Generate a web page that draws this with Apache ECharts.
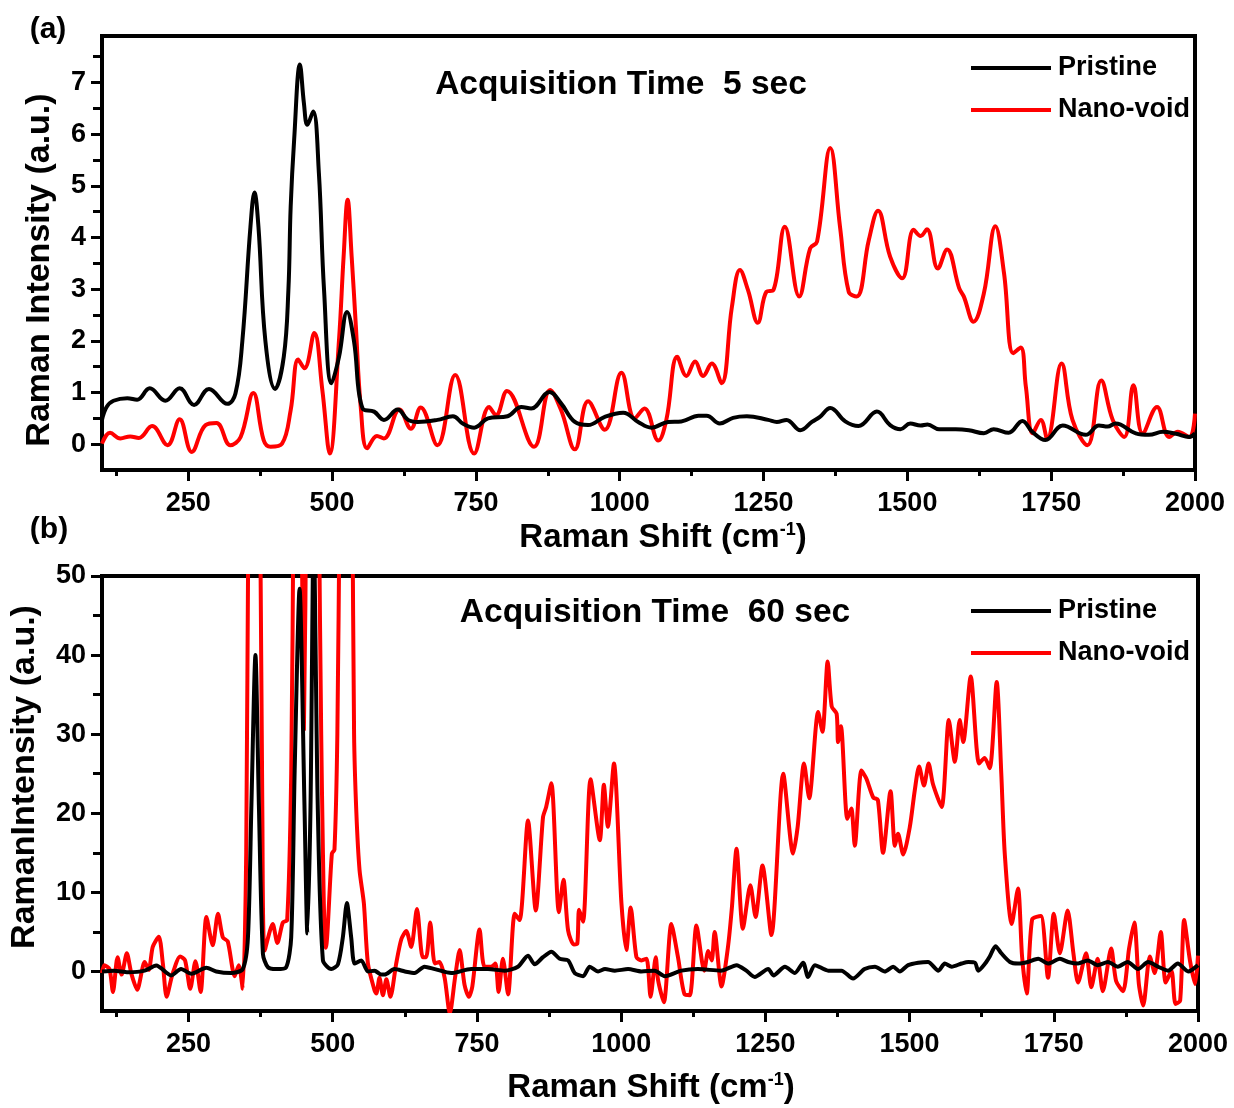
<!DOCTYPE html>
<html>
<head>
<meta charset="utf-8">
<script src="https://cdn.jsdelivr.net/npm/echarts@6/dist/echarts.min.js"></script>
<style>
html,body{margin:0;padding:0;background:#fff;}
#c{width:1234px;height:1108px;}
</style>
</head>
<body>
<div id="c"></div>
<script>
// ---------- Data (panel a: 5 sec) ----------
const aPristineX = [100,108,120,144,161,183,210,235,260,286,318,332,344,358,365,372,384,401,416,424,428,434,444,451,457,467,477,486,499,512,526,538,553,573,590,614,632,649,683,710,727,747,771,805,829,846,878,898,922,945,974,1006,1032,1055,1084,1107,1137,1151,1174,1197,1221,1258,1273,1290,1314,1334,1348,1366,1392,1415,1447,1470,1488,1505,1523,1535,1555,1584,1607,1633,1650,1676,1700,1717,1740,1770,1810,1833,1848,1862,1897,1920,1944,1967,1990,2000];
const aPristineY = [0.47,0.72,0.84,0.89,0.86,1.08,0.84,1.08,0.76,1.07,0.78,0.98,2.0,4.2,4.87,4.2,2.0,1.07,1.69,2.98,4.6,5.89,7.35,6.6,6.18,6.44,5.25,2.98,1.18,1.69,2.56,2.0,0.69,0.63,0.47,0.67,0.47,0.43,0.47,0.54,0.40,0.32,0.50,0.54,0.72,0.69,1.01,0.79,0.43,0.37,0.53,0.61,0.43,0.32,0.43,0.44,0.55,0.55,0.40,0.51,0.54,0.47,0.43,0.47,0.27,0.43,0.53,0.70,0.44,0.35,0.63,0.37,0.29,0.40,0.36,0.38,0.29,0.29,0.27,0.21,0.29,0.22,0.45,0.24,0.08,0.36,0.18,0.36,0.34,0.40,0.21,0.18,0.24,0.20,0.14,0.21];
const aVoidX = [100,114,132,149,164,187,214,235,256,280,299,323,341,363,381,393,413,428,441,452,469,483,496,512,520,527,534,541,550,561,578,590,617,637,654,683,714,747,773,785,804,851,879,898,922,945,974,1003,1026,1043,1067,1081,1100,1116,1131,1145,1160,1177,1195,1209,1223,1240,1255,1267,1287,1312,1331,1343,1366,1383,1398,1412,1433,1449,1470,1491,1511,1523,1534,1553,1569,1590,1598,1615,1633,1653,1668,1684,1697,1706,1718,1732,1743,1768,1787,1813,1837,1857,1877,1893,1909,1934,1955,1970,1990,2000];
const aVoidY = [0.01,0.22,0.11,0.15,0.12,0.35,-0.02,0.48,-0.15,0.37,0.41,-0.02,0.14,0.99,0.08,-0.05,0.01,0.66,1.64,1.47,2.15,1.05,-0.18,2.02,3.63,4.73,3.63,2.34,0.69,-0.08,0.16,0.11,0.67,0.30,0.71,-0.02,1.34,-0.18,0.72,0.56,1.03,-0.05,1.05,0.66,-0.10,0.83,0.28,1.38,0.50,0.69,0.07,0.47,1.69,1.32,1.60,1.32,1.56,1.18,2.66,3.37,2.98,2.35,2.95,2.98,4.21,2.86,3.79,3.92,5.73,4.2,2.95,2.86,3.95,4.52,3.63,3.21,4.15,4.03,4.16,3.40,3.77,3.02,2.86,2.37,2.92,4.22,3.31,1.76,1.87,1.11,0.21,0.47,0.11,1.56,0.47,-0.02,1.23,0.47,0.14,1.14,0.21,0.72,0.14,0.24,0.14,0.59];

// ---------- Data (panel b: 60 sec) ----------
const bPristineX = [100,121,145,174,194,220,237,255,281,298,324,344,353,359,366,372,379,387.5,402,419,428,434,442.5,451,456,461.5,467,474,483,497.5,509,517.5,524.5,532,538,549.5,561,572.5,584,590,607,625,642,659,677,705.5,740,769,798,821,838.5,850,864.5,879,893.5,908,919.5,934,945.5,960,972,989,1012,1035,1058,1075.5,1104.5,1133,1173,1200,1217,1231.5,1255,1264,1284,1301,1315.5,1324,1336,1359,1382,1402,1422,1440,1457,1471.5,1483,1497.5,1515,1532,1550,1561,1573,1590,1602,1613.5,1619,1631,1639,1649,1659,1674,1688,1705,1723,1740,1760.5,1775,1792,1809,1826,1844,1861,1878,1896,1913.5,1931,1948,1965,1983,2000];
const bPristineY = [0,0.1,-0.1,0.1,0.76,-0.5,0.3,-0.3,0.47,0,-0.2,0.3,4.3,21,40,21,2.2,0.55,0.3,0.5,4.3,25.4,48.4,21,4.8,21,56,21,1.4,0.3,0.9,4.3,8.65,4.3,1.0,1.4,0,0.1,-0.4,-0.4,0.3,0,-0.2,0.6,0.3,-0.2,0.3,0.3,0.1,0.6,2.0,0.9,1.8,2.5,1.6,1.4,-0.2,-0.6,0.6,0,0.3,0.1,0.3,0,0.1,-0.6,0.1,0.3,0.1,0.8,0.1,-0.7,0.3,-0.5,0.6,-0.2,1.1,-0.7,0.8,0.1,0.1,-0.9,0.3,0.6,0,0.6,0,0.8,1.1,1.2,0.1,1.0,0.6,1.0,1.2,1.1,0.1,1.0,1.9,3.2,2.3,1.2,1.0,1.2,1.6,1.0,1.6,1.2,1.0,1.4,0.8,1.2,0.6,1.2,0.3,1.2,0.6,0.1,1.0,0,0.8];
const bVoidX = [100,104,113,119,127,134,143,151,161,174,181,188,198.5,205.5,212,222,235.5,244,253,262,271,281,292,301,309.5,318,330,337,344,350,354,365,374,378,382,396,404,413.5,421,428,432,440,446,450,454,465,476,480,483,486,488,498.5,503,508,512,523,534,537,541,546.5,554,561,572.5,575.5,581,587,593,600,610,619,627.5,636,646,656,662,669,677,685,694,703,712,720,728.5,736,742,754.5,763,775,782,787.5,795,804,815.5,824,838.5,852,864.5,870,879,892,900,908,918,924,927,934,947,963,970,977,987.5,1000.5,1009,1016.5,1026.5,1035,1044,1051,1060,1064,1074,1087,1098.5,1110,1119,1130.5,1144,1151,1157,1162,1174,1185,1192,1200,1211,1224,1233,1245,1260.5,1281,1298,1306,1317,1326,1341.5,1349,1358,1365,1373.5,1376,1381,1392,1399,1405,1416.5,1425,1437,1445,1454,1467,1474.5,1480,1489,1500.5,1509,1516.5,1525,1533,1540.5,1555.5,1568,1578.5,1587,1593,1606,1620.5,1630,1639,1651,1659,1665,1677,1688,1695,1703,1712.5,1727.5,1740,1750,1760.5,1774,1784,1792,1806,1815,1826,1835,1849.5,1858,1870,1880.5,1889.5,1897.5,1905,1916.5,1925,1935.5,1944,1954,1961,1969,1976,1986,1995,2000];
const bVoidY = [-0.2,0.8,0.3,-2.6,1.8,-0.4,2.3,-0.3,-2.3,1.2,0.2,3.1,4.4,1.0,-3.2,-0.4,1.9,1.4,-2.2,1.3,-2.6,6.9,3.3,7.3,4.3,3.8,-0.6,0.8,-2.2,15,60,120,60,20,2.65,6.0,3.6,6.2,6.5,25,60,150,60,30.5,60,200,60,30,15,3.9,3,14.9,15.4,30,60,140,60,30,20,12.8,8.6,1.0,-2.4,-2.8,-0.8,-3.0,-1.0,-3.2,1.0,4.1,5.1,3.1,7.9,1.8,1.8,6.2,1.0,1.2,-0.8,-5.3,-0.8,2.7,-1.7,-3.2,-1.9,5.3,0.6,0.6,1.0,-2.6,1.6,-2.9,7.3,6.5,19.1,7.7,19.5,20.8,23.8,7.5,11.6,5.2,3.4,3.5,7.8,6.3,24.3,16.6,23.6,18.3,26.3,8.6,2.7,8.1,1.8,1.4,1.6,-3.2,1.8,-1.1,-3.9,6.0,1.8,-2.9,-3.0,5.8,0.1,2.6,1.4,5.0,-1.9,3.0,8.1,15.5,5.4,10.9,6.9,13.4,4.6,25.0,14.9,18.3,26.3,21.9,32.8,30.3,39.2,33.5,32.6,29,31.0,19.3,20.6,15.9,25.4,24.4,22.0,21.7,15.0,22.8,15.9,17.4,14.8,18.3,22.9,25.9,23.5,26.3,23.7,20.8,31.8,26.5,31.8,29,37.3,26.3,27,25.7,36.6,25,14.9,6.0,10.5,1.9,-2.8,6.6,7.0,-0.8,7.3,2.3,7.7,2.3,-1.4,2.3,-2.0,1.6,-2.5,2.9,-1.2,-2.5,2.9,6.2,-1.6,-4.3,1.9,-0.2,5.0,-1.4,0.1,-4.1,-3.7,6.5,1.4,-1.6,2.0];

// ---------- Ticks ----------
const xMajorTicks = [250,500,750,1000,1250,1500,1750,2000];
const xMinorTicks = [125,375,625,875,1125,1375,1625,1875];
const aYMajorTicks = [0,1,2,3,4,5,6,7];
const aYMinorTicks = [0.5,1.5,2.5,3.5,4.5,5.5,6.5,7.5];
const bYMajorTicks = [0,10,20,30,40,50];
const bYMinorTicks = [5,15,25,35,45];

const zip = (xs, ys) => xs.map((x, i) => [x, ys[i]]);
const FONT = "'Liberation Sans', Arial, Helvetica, sans-serif";
const LW = 4;

function mkX(grid, ticks, major) {
  return {
    type: 'value', gridIndex: grid, min: 100, max: 2000, position: 'bottom',
    axisLine: { show: major, onZero: false, lineStyle: { color: '#000', width: LW } },
    axisTick: { show: true, inside: false, customValues: ticks, length: major ? 11 : 6, lineStyle: { color: '#000', width: 3 } },
    axisLabel: { show: major, customValues: ticks, margin: 20, color: '#000', fontSize: 27, fontWeight: 'bold', fontFamily: FONT, formatter: v => String(v) },
    splitLine: { show: false }
  };
}
function mkY(grid, min, max, ticks, major) {
  return {
    type: 'value', gridIndex: grid, min: min, max: max, position: 'left',
    axisLine: { show: major, onZero: false, lineStyle: { color: '#000', width: LW } },
    axisTick: { show: true, inside: false, customValues: ticks, length: major ? 11 : 9, lineStyle: { color: '#000', width: 3 } },
    axisLabel: { show: major, customValues: ticks, margin: 16, color: '#000', fontSize: 27, fontWeight: 'bold', fontFamily: FONT, formatter: v => String(v) },
    splitLine: { show: false }
  };
}
function mkSeries(name, color, data, xi, yi, smooth) {
  return {
    name: name, type: 'line', xAxisIndex: xi, yAxisIndex: yi, data: data,
    showSymbol: false, symbol: 'none', smooth: smooth, clip: true,
    lineStyle: { color: color, width: LW }, itemStyle: { color: color },
    z: name === 'Pristine' ? 3 : 2
  };
}
function mkLegend(top) {
  return {
    orient: 'vertical', left: 966, top: top, itemWidth: 80, itemHeight: 4, itemGap: 12,
    icon: 'rect', selectedMode: false, data: ['Pristine', 'Nano-void'],
    textStyle: { fontSize: 27, fontWeight: 'bold', fontFamily: FONT, color: '#000', lineHeight: 30, padding: [0, 0, 0, 2] }
  };
}
function txt(text, x, y, size, extra) {
  return Object.assign({
    type: 'text', x: x, y: y, silent: true,
    style: { text: text, fill: '#000', font: 'bold ' + size + 'px ' + FONT, textAlign: 'center', textVerticalAlign: 'middle' }
  }, extra || {});
}
const supRich = { sup: { fontSize: 18, fontWeight: 'bold', fontFamily: FONT, verticalAlign: 'top', padding: [0, 0, 14, 0], fill: '#000' } };

const chart = echarts.init(document.getElementById('c'), null, { renderer: 'canvas' });
chart.setOption({
  animation: false,
  backgroundColor: '#fff',
  grid: [
    { left: 102, top: 36, width: 1093, height: 434, show: true, borderColor: '#000', borderWidth: LW, backgroundColor: 'transparent' },
    { left: 102, top: 576, width: 1096, height: 435, show: true, borderColor: '#000', borderWidth: LW, backgroundColor: 'transparent' }
  ],
  xAxis: [ mkX(0, xMajorTicks, true), mkX(0, xMinorTicks, false), mkX(1, xMajorTicks, true), mkX(1, xMinorTicks, false) ],
  yAxis: [
    mkY(0, -0.5, 7.9, aYMajorTicks, true), mkY(0, -0.5, 7.9, aYMinorTicks, false),
    mkY(1, -5, 50, bYMajorTicks, true), mkY(1, -5, 50, bYMinorTicks, false)
  ],
  legend: [ mkLegend(48), mkLegend(591) ],
  series: [
    mkSeries('Nano-void', '#ff0000', zip(aVoidX, aVoidY), 0, 0, 0.4),
    mkSeries('Pristine', '#000000', zip(aPristineX, aPristineY), 0, 0, 0.4),
    mkSeries('Nano-void', '#ff0000', zip(bVoidX, bVoidY), 2, 2, 0.25),
    mkSeries('Pristine', '#000000', zip(bPristineX, bPristineY), 2, 2, 0.25)
  ],
  graphic: [
    txt('(a)', 48, 30, 30),
    txt('(b)', 49, 530, 30),
    txt('Acquisition Time  5 sec', 621, 85, 33.5),
    txt('Acquisition Time  60 sec', 655, 613, 33.5),
    txt('Raman Intensity (a.u.)', 40, 270, 34, { rotation: Math.PI / 2 }),
    txt('RamanIntensity (a.u.)', 25, 777, 34, { rotation: Math.PI / 2 }),
    { type: 'text', x: 663, y: 538, silent: true, style: { text: 'Raman Shift (cm{sup|-1})', rich: supRich, fill: '#000', font: 'bold 33px ' + FONT, textAlign: 'center', textVerticalAlign: 'middle' } },
    { type: 'text', x: 651, y: 1088, silent: true, style: { text: 'Raman Shift (cm{sup|-1})', rich: supRich, fill: '#000', font: 'bold 33px ' + FONT, textAlign: 'center', textVerticalAlign: 'middle' } }
  ]
});
</script>
</body>
</html>
